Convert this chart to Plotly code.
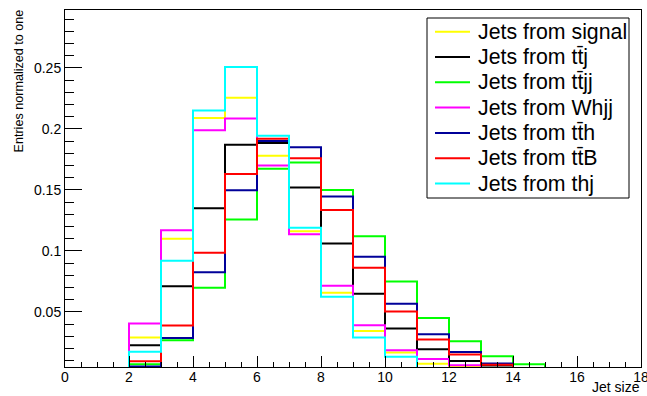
import plotly.graph_objects as go

# Bin edges (jet multiplicity, unit-width bins from 0 to 18)
bin_edges = list(range(0, 19))

# Normalized entries per bin for each sample
signal = [0, 0, 0.029, 0.110, 0.209, 0.2255, 0.178, 0.116, 0.0656, 0.0344, 0.0166, 0.0075, 0.0055, 0.003, 0, 0, 0, 0]
ttj = [0, 0, 0.0226, 0.071, 0.135, 0.187, 0.1885, 0.152, 0.106, 0.0648, 0.0363, 0.0193, 0.0097, 0.006, 0.002, 0, 0, 0]
ttjj = [0, 0, 0.007, 0.0267, 0.0698, 0.1257, 0.1673, 0.1725, 0.150, 0.112, 0.075, 0.045, 0.0259, 0.0136, 0.007, 0.004, 0.001, 0]
whjj = [0, 0, 0.0404, 0.117, 0.199, 0.2085, 0.170, 0.1136, 0.0714, 0.039, 0.0185, 0.0114, 0.0062, 0.003, 0, 0, 0, 0]
tth = [0, 0, 0.0053, 0.0286, 0.0824, 0.1498, 0.190, 0.185, 0.1446, 0.0952, 0.0566, 0.0317, 0.0171, 0.0076, 0.003, 0, 0, 0]
ttb = [0, 0, 0.0095, 0.0388, 0.0985, 0.163, 0.192, 0.176, 0.1336, 0.0862, 0.0503, 0.0273, 0.015, 0.0067, 0.002, 0, 0, 0]
thj = [0, 0, 0.0174, 0.092, 0.215, 0.2507, 0.1945, 0.119, 0.0624, 0.029, 0.0133, 0.004, 0.002, 0, 0, 0, 0, 0]

series_names = [
    "Jets from signal",
    "Jets from tt\u0304j",
    "Jets from tt\u0304jj",
    "Jets from Whjj",
    "Jets from tt\u0304h",
    "Jets from tt\u0304B",
    "Jets from thj",
]
series_values = [signal, ttj, ttjj, whjj, tth, ttb, thj]
series_colors = ["#ffff00", "#000000", "#00ff00", "#ff00ff", "#000099", "#ff0000", "#00ffff"]

x_tick_vals = [0, 2, 4, 6, 8, 10, 12, 14, 16, 18]
x_tick_text = ["0", "2", "4", "6", "8", "10", "12", "14", "16", "18"]
y_tick_vals = [0.05, 0.10, 0.15, 0.20, 0.25]
y_tick_text = ["0.05", "0.1", "0.15", "0.2", "0.25"]

FONT = "Liberation Sans, Arial, Helvetica, sans-serif"

# Plot-area geometry in pixels (used to place the hand-drawn legend)
W, H = 647, 396
L, R, T, B = 65, 6, 10, 29
PW, PH = W - L - R, H - T - B


def px_x(px):
    return (px - L) / PW


def px_y(py):
    return (H - B - py) / PH


fig = go.Figure()

for name, vals, col in zip(series_names, series_values, series_colors):
    fig.add_trace(go.Scatter(
        x=bin_edges,
        y=vals + [vals[-1]],
        mode="lines",
        line=dict(color=col, width=2, shape="hv"),
        name=name,
        showlegend=False,
        hoverinfo="x+y+name",
    ))

shapes = []
annotations = []

# Legend box
shapes.append(dict(type="rect", xref="paper", yref="paper",
                   x0=px_x(427), x1=px_x(629), y0=px_y(198), y1=px_y(18),
                   line=dict(color="black", width=1), fillcolor="white", layer="above"))

for i, (name, col) in enumerate(zip(series_names, series_colors)):
    cy = 31.7 + 25.3 * i
    shapes.append(dict(type="line", xref="paper", yref="paper",
                       x0=px_x(435), x1=px_x(470), y0=px_y(cy), y1=px_y(cy),
                       line=dict(color=col, width=2), layer="above"))
    annotations.append(dict(text=name, xref="paper", yref="paper",
                            x=px_x(476), y=px_y(cy), xanchor="left", yanchor="middle",
                            showarrow=False, font=dict(family=FONT, size=21.3, color="black")))

# Axis titles
annotations.append(dict(text="Entries normalized to one", xref="paper", yref="paper",
                        x=px_x(18), y=px_y(8), xanchor="center", yanchor="top",
                        textangle=-90, showarrow=False,
                        font=dict(family=FONT, size=12.6, color="black")))
annotations.append(dict(text="Jet size", xref="paper", yref="paper",
                        x=px_x(642), y=px_y(387), xanchor="right", yanchor="middle",
                        showarrow=False, font=dict(family=FONT, size=14, color="black")))

fig.update_layout(
    width=W, height=H,
    margin=dict(l=L, r=R, t=T, b=B, autoexpand=False),
    paper_bgcolor="white", plot_bgcolor="white",
    font=dict(family=FONT, size=14, color="black"),
    shapes=shapes, annotations=annotations,
    showlegend=False,
)

fig.update_xaxes(
    range=[0, 18], showgrid=False, zeroline=False,
    showline=True, linecolor="black", linewidth=1, mirror=True,
    ticks="inside", ticklen=11, tickcolor="black", tickwidth=1,
    tickvals=x_tick_vals, ticktext=x_tick_text, ticklabeloverflow="allow",
    ticklabelstandoff=-3,
    minor=dict(dtick=0.5, tick0=0, ticks="inside", ticklen=5, tickcolor="black", showgrid=False),
    tickfont=dict(family=FONT, size=14, color="black"),
)
fig.update_yaxes(
    range=[0.0048, 0.2975], showgrid=False, zeroline=False,
    showline=True, linecolor="black", linewidth=1, mirror=True,
    ticks="inside", ticklen=17, tickcolor="black", tickwidth=1,
    tickvals=y_tick_vals, ticktext=y_tick_text,
    minor=dict(dtick=0.01, tick0=0, ticks="inside", ticklen=9, tickcolor="black", showgrid=False),
    tickfont=dict(family=FONT, size=14, color="black"),
)

fig.write_html("out.html")
